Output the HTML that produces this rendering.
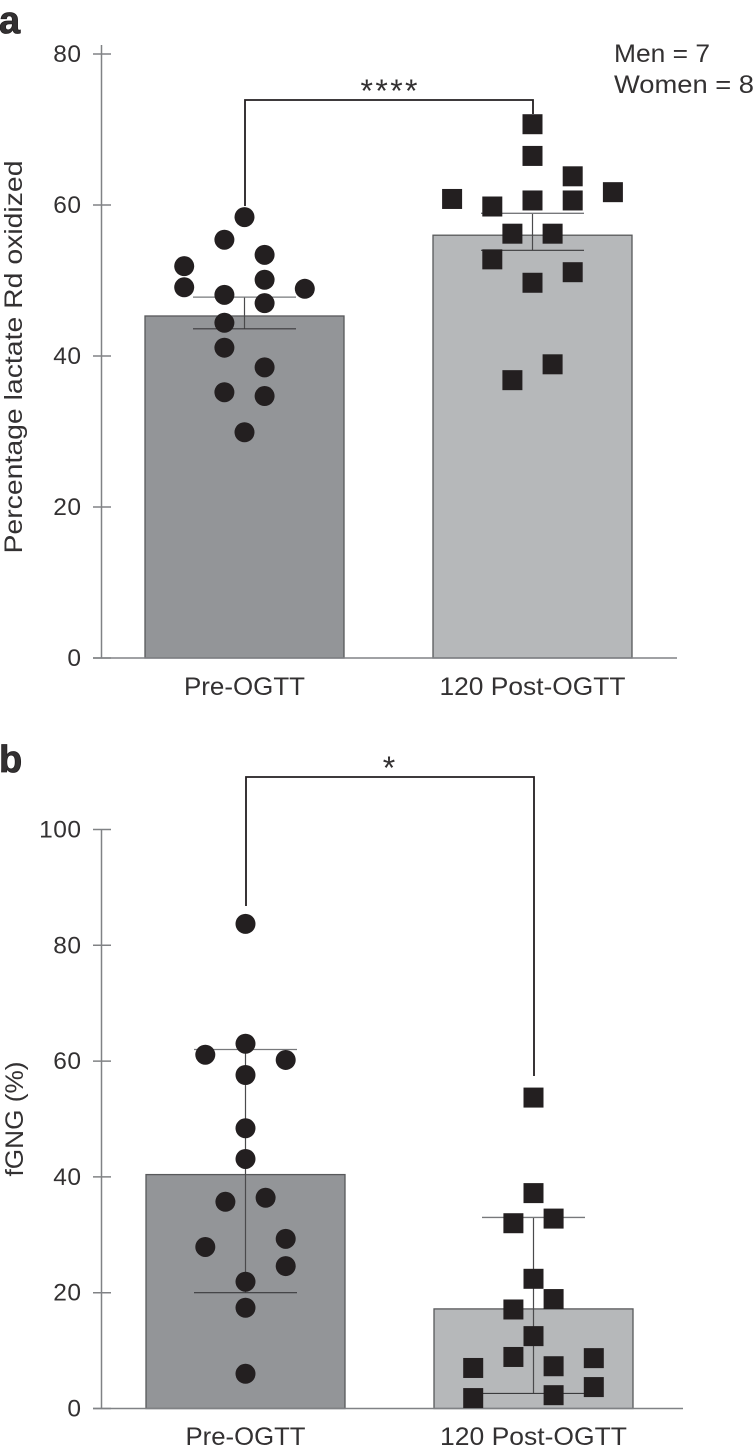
<!DOCTYPE html>
<html lang="en">
<head>
<meta charset="utf-8">
<title>Lactate oxidation and fGNG bar charts</title>
<style>
html,body{margin:0;padding:0;background:#fff}
svg{display:block}
text{font-family:"Liberation Sans",sans-serif;fill:#333132}
</style>
</head>
<body>
<svg id="chart" xmlns="http://www.w3.org/2000/svg" width="755" height="1453" viewBox="0 0 755 1453"></svg>
<script>
const categories = ['Pre-OGTT', '120 Post-OGTT'];

const aTicks = [0, 20, 40, 60, 80];
const aMeans = [45.3, 56.0];
const aErrUpper = [47.8, 58.9];
const aErrLower = [43.6, 54.0];
const aPreValues = [58.4, 55.4, 53.4, 51.9, 49.1, 50.1, 48.9, 48.1, 47.0, 44.4, 41.1, 38.5, 35.2, 34.7, 29.9];
const aPreLanes = [0, -1, 1, -3, -3, 1, 3, -1, 1, -1, -1, 1, -1, 1, 0];
const aPostValues = [70.7, 66.5, 63.8, 61.7, 60.8, 59.8, 60.6, 60.6, 56.2, 56.2, 52.8, 51.1, 49.7, 38.9, 36.8];
const aPostLanes = [0, 0, 2, 4, -4, -2, 0, 2, -1, 1, -2, 2, 0, 1, -1];

const bTicks = [0, 20, 40, 60, 80, 100];
const bMeans = [40.4, 17.2];
const bErrUpper = [62.0, 33.0];
const bErrLower = [20.0, 2.6];
const bPreValues = [83.7, 63.0, 61.1, 60.2, 57.6, 48.4, 43.1, 35.7, 36.4, 27.9, 29.3, 24.6, 21.9, 17.4, 6.0];
const bPreLanes = [0, 0, -2, 2, 0, 0, 0, -1, 1, -2, 2, 2, 0, 0, 0];
const bPostValues = [53.7, 37.2, 32.0, 32.8, 22.4, 18.9, 17.1, 12.5, 8.9, 7.0, 7.3, 8.7, 3.7, 1.8, 2.3];
const bPostLanes = [0, 0, -1, 1, 0, 1, -1, 0, -1, -3, 1, 3, 3, -3, 1];

const NS = 'http://www.w3.org/2000/svg';
const root = document.getElementById('chart');
const barFills = ['#939598', '#b6b8ba'];

function make(tag, attrs, parent) {
  const el = document.createElementNS(NS, tag);
  for (const k in attrs) el.setAttribute(k, attrs[k]);
  parent.appendChild(el);
  return el;
}

function drawPanel(p) {
  const g = make('g', {}, root);
  
  
  const yS = v => p.y0 - v * p.yUnit;
  const xS = i => p.x0 + i * 288;
  const laneX = (i, lane) => xS(i) + lane * 20.1;

  // bars
  p.means.forEach((m, i) => {
    const bar = make('rect', {x: xS(i) - 99.5, y: yS(m), width: 199, height: p.y0 - yS(m), fill: barFills[i], stroke: '#58595b', 'stroke-width': 1.3}, g);
    
    
  });

  // error bars
  p.means.forEach((m, i) => {
    const stem = make('line', {x1: xS(i), x2: xS(i), y1: yS(p.upper[i]), y2: yS(p.lower[i]), stroke: '#4a4a4c', 'stroke-width': 1.2}, g);
    
    
    const up = make('line', {x1: xS(i) - 51.5, x2: xS(i) + 51.5, y1: yS(p.upper[i]), y2: yS(p.upper[i]), stroke: '#77787b', 'stroke-width': 1.3}, g);
    
    
    const lo = make('line', {x1: xS(i) - 51.5, x2: xS(i) + 51.5, y1: yS(p.lower[i]), y2: yS(p.lower[i]), stroke: '#3a3a3c', 'stroke-width': 1.2}, g);
    
    
  });

  // y axis and ticks
  const axis = make('line', {x1: 101.5, x2: 101.5, y1: p.axisTop, y2: p.y0, stroke: '#808285', 'stroke-width': 1.5}, g);
  
  
  const xAxis = make('line', {x1: 93, x2: p.xEnd, y1: p.y0, y2: p.y0, stroke: '#808285', 'stroke-width': 1.5}, g);
  
  
  p.ticks.forEach(t => {
    const tick = make('line', {x1: 93, x2: 111, y1: yS(t), y2: yS(t), stroke: '#808285', 'stroke-width': 1.5}, g);
    
    
    const label = make('text', {x: 81.5, y: yS(t) + 8, 'text-anchor': 'end', 'font-size': 24.5, 'letter-spacing': 0.5}, g);
    
    
    label.textContent = t;
  });

  // category labels
  categories.forEach((c, i) => {
    const label = make('text', {x: xS(i) + p.labelDx[i], y: p.labelY, 'text-anchor': 'middle', 'font-size': 25, textLength: p.labelLen[i], lengthAdjust: 'spacingAndGlyphs'}, g);
    
    
    label.textContent = c;
  });

  // circle markers
  p.preValues.forEach((v, k) => {
    const dot = make('circle', {cx: laneX(0, p.preLanes[k]), cy: yS(v), r: 10, fill: '#231f20'}, g);
    
    
  });

  // square markers
  p.postValues.forEach((v, k) => {
    const sq = make('rect', {x: laneX(1, p.postLanes[k]) - 10, y: yS(v) - 10, width: 20, height: 20, fill: '#231f20'}, g);
    
    
  });

  // significance bracket
  const bx = p.bracket;
  const br = make('polyline', {points: [xS(0) + 0.5, bx[0], xS(0) + 0.5, bx[1], xS(1) + 0.5, bx[1], xS(1) + 0.5, bx[2]].join(','), fill: 'none', stroke: '#231f20', 'stroke-width': 1.8}, g);
  
  
  const star = make('text', {x: 389, y: p.starY, 'text-anchor': 'middle', 'font-size': 32, textLength: p.starLen, lengthAdjust: 'spacing'}, g);
  
  
  star.textContent = p.stars;

  // y title
  const title = make('text', {transform: 'translate(' + p.titleX + ',' + p.titleY + ') rotate(-90)', 'text-anchor': 'middle', 'font-size': 25, textLength: p.titleLen, lengthAdjust: 'spacingAndGlyphs'}, g);
  
  
  title.textContent = p.title;

  // panel letter
  const letter = make('text', {x: -1, y: p.letterY, 'font-size': 38, 'font-weight': 'bold', stroke: '#231f20', 'stroke-width': 0.8}, g);
  
  
  letter.textContent = p.id;
}

drawPanel({
  id: 'a', y0: 658, yUnit: 7.55, x0: 244.5, xEnd: 677, axisTop: 45, ticks: aTicks,
  means: aMeans, upper: aErrUpper, lower: aErrLower,
  preValues: aPreValues, preLanes: aPreLanes, postValues: aPostValues, postLanes: aPostLanes,
  labelY: 695, labelDx: [0, 0], labelLen: [121, 186],
  bracket: [206, 100, 114], stars: '****', starY: 102, starLen: 57,
  title: 'Percentage lactate Rd oxidized', titleX: 22, titleY: 357, titleLen: 393, letterY: 33
});

drawPanel({
  id: 'b', y0: 1408.5, yUnit: 5.79, x0: 245.5, xEnd: 683, axisTop: 829.5, ticks: bTicks,
  means: bMeans, upper: bErrUpper, lower: bErrLower,
  preValues: bPreValues, preLanes: bPreLanes, postValues: bPostValues, postLanes: bPostLanes,
  labelY: 1445, labelDx: [0, 0], labelLen: [120, 187],
  bracket: [906, 777, 1076], stars: '*', starY: 779, starLen: 14,
  title: 'fGNG (%)', titleX: 23, titleY: 1119, titleLen: 115, letterY: 772
});

const men = make('text', {x: 614, y: 62, 'font-size': 25, textLength: 96, lengthAdjust: 'spacingAndGlyphs'}, root);


men.textContent = 'Men = 7';
const women = make('text', {x: 614, y: 93, 'font-size': 25, textLength: 140, lengthAdjust: 'spacingAndGlyphs'}, root);


women.textContent = 'Women = 8';
</script>
</body>
</html>
